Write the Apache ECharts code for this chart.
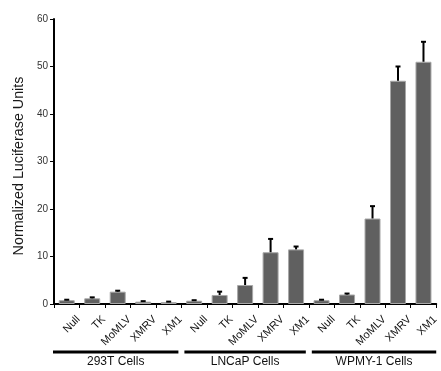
<!DOCTYPE html>
<html><head><meta charset="utf-8">
<script src="https://cdn.jsdelivr.net/npm/echarts@6/dist/echarts.min.js"></script>
<style>html,body{margin:0;padding:0;background:#fff}#c{width:441px;height:371px}</style>
</head><body><div id="c"></div>
<script>
var categories = ['Null','TK','MoMLV','XMRV','XM1','Null','TK','MoMLV','XMRV','XM1','Null','TK','MoMLV','XMRV','XM1'];
var values = [0.8,1.2,2.6,0.5,0.4, 0.7,1.9,4.0,10.9,11.5, 0.8,2.0,18.0,47.0,51.0];
var errors = [0.1,0.2,0.2,0.1,0.1, 0.1,0.7,1.5,2.8,0.6, 0.1,0.2,2.6,3.0,4.2];
var groups = ['293T Cells','LNCaP Cells','WPMY-1 Cells'];
var groupSizes = [5,5,5];
var yTicks = [0,10,20,30,40,50,60];

var font = 'Liberation Sans, Arial, sans-serif';
var chart = echarts.init(document.getElementById('c'), null, {renderer:'canvas'});

var groupData = [];
var start = 0;
groups.forEach(function(g,i){ groupData.push([start, start+groupSizes[i]-1, g]); start += groupSizes[i]; });

chart.setOption({
  animation:false,
  grid:{left:54,right:0,top:19,bottom:67,containLabel:false},
  xAxis:{
    type:'category', data:categories, boundaryGap:true,
    axisLine:{lineStyle:{color:'#000',width:2}},
    axisTick:{show:true,interval:0,length:4,lineStyle:{color:'#000',width:1}},
    axisLabel:{interval:0,rotate:45,fontSize:11,color:'#111',fontFamily:font,margin:2,
               verticalAlign:'top',padding:[11,0,0,0]}
  },
  yAxis:{
    type:'value', min:yTicks[0], max:yTicks[yTicks.length-1], interval:10,
    name:'Normalized Luciferase Units', nameLocation:'middle', nameGap:28,
    nameTextStyle:{fontSize:14.3,color:'#1a1a1a',fontFamily:font,padding:[0,9,0,0]},
    axisLine:{show:true,lineStyle:{color:'#000',width:2}},
    axisTick:{show:true,length:4,lineStyle:{color:'#000',width:1}},
    axisLabel:{fontSize:10,color:'#333',fontFamily:font,margin:6},
    splitLine:{show:false}
  },
  series:[
    {type:'bar', data:values, barWidth:16,
     itemStyle:{color:'#606060',borderColor:'#a8a8a8',borderWidth:1}},
    {type:'custom', data:values.map(function(v,i){return [i,v,errors[i]];}),
     renderItem:function(params,api){
       var x=api.value(0), v=api.value(1), e=api.value(2);
       var p0=api.coord([x,v]), p1=api.coord([x,v+e]);
       return {type:'group',children:[
         {type:'line',shape:{x1:p0[0],y1:p0[1],x2:p1[0],y2:p1[1]},style:{stroke:'#000',lineWidth:2}},
         {type:'line',shape:{x1:p1[0]-2.5,y1:p1[1],x2:p1[0]+2.5,y2:p1[1]},style:{stroke:'#000',lineWidth:2}}
       ]};
     }, z:5},
    {type:'custom', data:groupData, clip:false,
     renderItem:function(params,api){
       var s=api.value(0), e=api.value(1), name=groupData[params.dataIndex][2];
       var band=api.size([1,0])[0];
       var a=api.coord([s,0]), b=api.coord([e,0]);
       var x1=a[0]-band/2, x2=b[0]+band/2;
       if(s>0) x1+=3; else x1-=1;
       if(e<categories.length-1) x2-=3;
       var y=a[1]+48;
       return {type:'group',children:[
         {type:'line',shape:{x1:x1,y1:y,x2:x2,y2:y},style:{stroke:'#000',lineWidth:3}},
         {type:'text',style:{text:name,x:(x1+x2)/2,y:y+10,align:'center',verticalAlign:'middle',fontSize:12,fontFamily:font,fill:'#111'}}
       ]};
     }}
  ]
});
</script></body></html>
